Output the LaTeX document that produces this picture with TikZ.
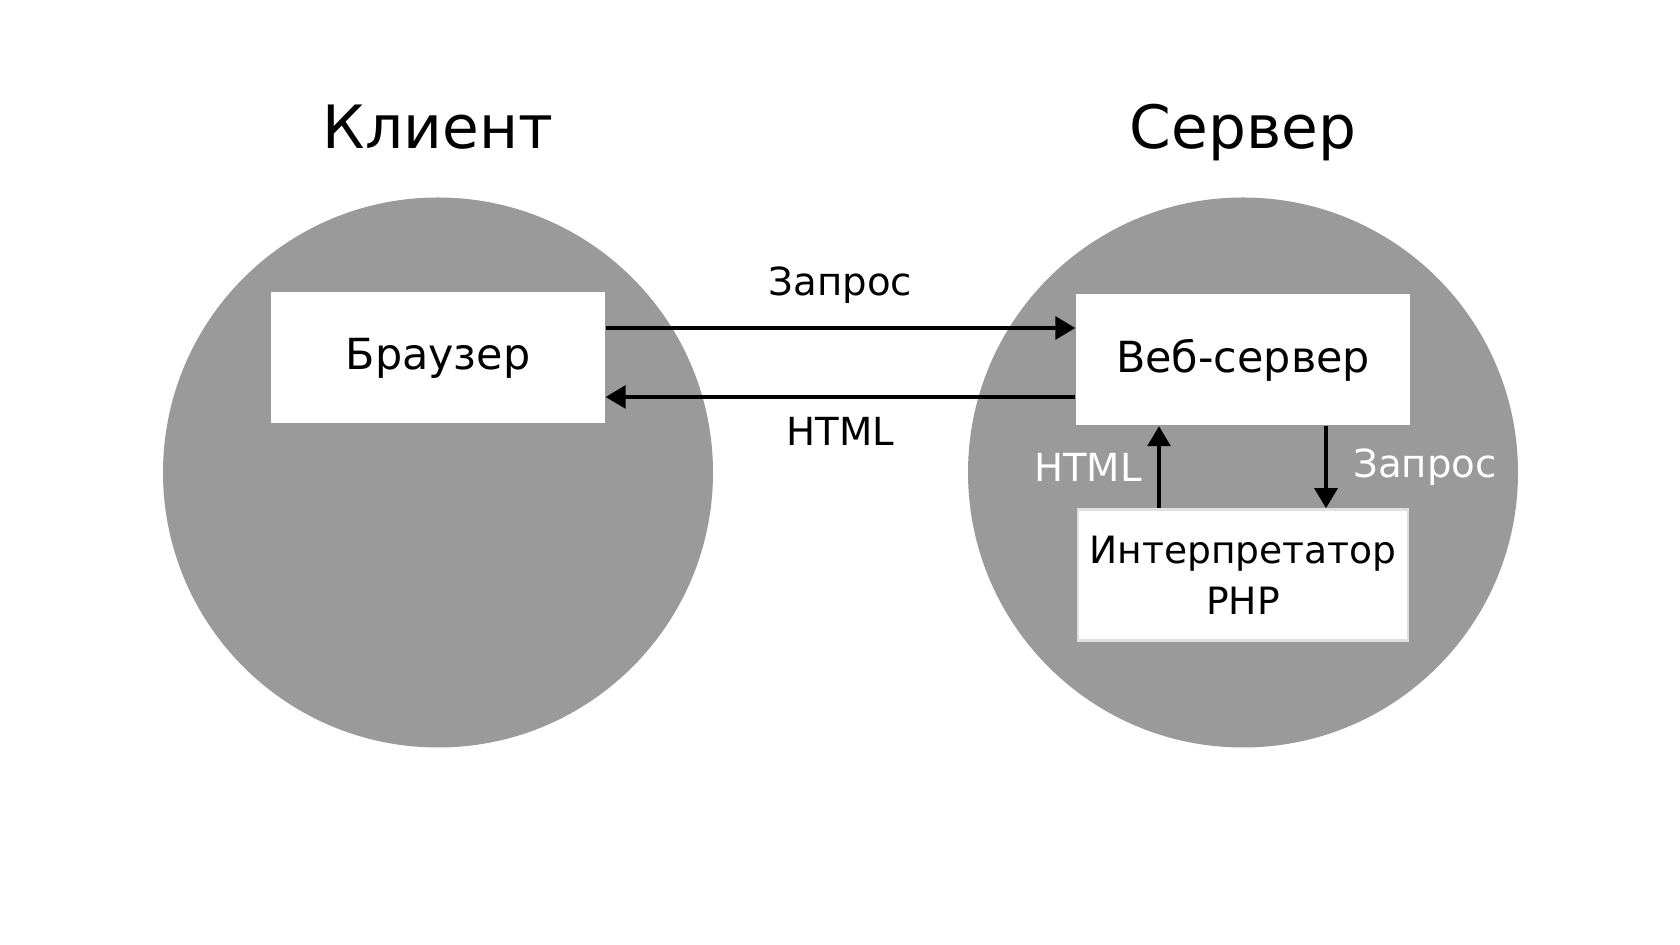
\documentclass[tikz,border=0pt]{standalone}
\usepackage{fontspec}
\setmainfont{DejaVu Sans}
\usetikzlibrary{arrows.meta, positioning}

\definecolor{zone}{HTML}{9A9A9A}

\begin{document}
\begin{tikzpicture}[
            zone/.style={circle, fill=zone, minimum size=5.5cm, inner sep=0pt},
            box/.style={rectangle, fill=white, minimum width=3.34cm,
                        minimum height=1.31cm, align=center, font=\fontsize{12.2}{15}\selectfont},
            ttl/.style={anchor=base, font=\fontsize{17}{20}\selectfont},
            lbl/.style={font=\fontsize{11}{13}\selectfont},
            arr/.style={-{Triangle[length=2mm, width=2.3mm]}, line width=0.9pt}]
          \useasboundingbox (0,0) rectangle (16.8,-9.45);
          \node[zone] (client) at (4.38,-4.725) {};
          \node[zone] (server) at (12.43,-4.725) {};
          \node[ttl] (tclient) at (4.38,-1.49) {Клиент};
          \node[ttl] (tserver) at (12.43,-1.49) {Сервер};
          \node[box] (brow) at (4.38,-3.58) {Браузер};
          \node[box] (web) at (12.43,-3.60) {Веб-сервер};
          \node[box, draw=black!12, line width=0.8pt, text width=3.1cm, inner xsep=0.1cm,
                minimum width=3.3cm, font=\fontsize{10.7}{14.5}\selectfont,
                below=0.82cm of web] (interp) {Интерпретатор\\ PHP};
          \draw[arr] ([yshift=3mm]brow.east) -- ([yshift=3mm]brow.east -| web.west)
            node[lbl, midway, above=1.1mm] (qreq) {Запрос};
          \draw[arr] ([yshift=-3.7mm]web.west) -- ([yshift=-3.7mm]web.west -| brow.east)
            node[lbl, midway, below=0.7mm] (qhtml) {HTML};
          \draw[arr] ([xshift=-8.4mm]interp.north) -- ([xshift=-8.4mm]interp.north |- web.south)
            node[lbl, white, midway, left=0.4mm] (ihtml) {HTML};
          \draw[arr] ([xshift=8.3mm]web.south) -- ([xshift=8.3mm]web.south |- interp.north)
            node[lbl, white, midway, right=1.4mm] (ireq) {Запрос};
        \end{tikzpicture}
\end{document}
